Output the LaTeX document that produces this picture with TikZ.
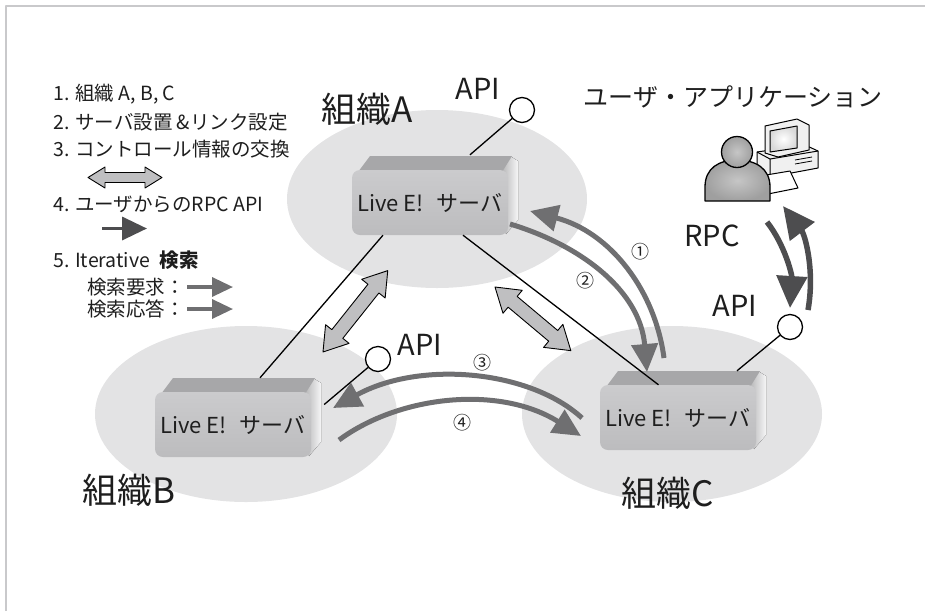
\documentclass[tikz,border=0pt]{standalone}
\usepackage{fontspec}
\setmainfont{Noto Sans CJK JP}
\usetikzlibrary{arrows.meta}

\definecolor{orgfill}{HTML}{E3E3E4}
\definecolor{framegray}{HTML}{C9C9CB}
\definecolor{hopgray}{HTML}{6F6F71}
\definecolor{rpcgray}{HTML}{4D4D4F}
\definecolor{ctlgray}{HTML}{BFBFC1}
\definecolor{inkgray}{HTML}{1E1E1E}
\definecolor{srvhi}{HTML}{CBCBCD}
\definecolor{srvlo}{HTML}{BCBCBE}
\definecolor{srvtopc}{HTML}{A7A7A9}

\tikzset{
  server/.style={rectangle, rounded corners=8pt, minimum width=156pt, minimum height=65pt,
    top color=srvhi, bottom color=srvlo, text=inkgray, font=\fontsize{22}{22}\selectfont},
  srvtop/.style={fill=srvtopc},
  srvside/.style={left color=srvtopc, right color=white!90!srvtopc},
  api/.style={circle, draw, line width=1.3pt, fill=white, minimum size=25pt, inner sep=0pt},
  link/.style={line width=1.3pt},
  hop/.style={draw=hopgray, line width=5pt, -{Triangle[length=28pt,width=26pt]}},
  rpc/.style={draw=rpcgray, line width=5.5pt, -{Triangle[length=32pt,width=30pt]}},
  ctl/.style={fill=ctlgray, draw=black, line width=0.9pt},
  legend/.style={anchor=west, inner sep=0pt, text=inkgray, font=\fontsize{19.5}{20}\selectfont},
  orgname/.style={text=inkgray, font=\fontsize{35}{35}\selectfont},
  apiname/.style={text=inkgray, font=\fontsize{29}{29}\selectfont},
  hopno/.style={text=inkgray, font=\fontsize{18}{18}\selectfont},
  pc/.style={draw=black, line width=1pt, fill=gray!12},
  person/.style={draw=black, line width=1.3pt, inner color=gray!45, outer color=gray!75},
}

\begin{document}
\begin{tikzpicture}[x=1pt, y=-1pt, line join=round]
\useasboundingbox (0,0) rectangle (925,611);
\draw[draw=framegray, line width=2.5pt] (6,611) -- (6,6) -- (925,6);

% organisations
\fill[orgfill] (437,199) ellipse [x radius=150pt, y radius=89pt];
\fill[orgfill] (246,414) ellipse [x radius=151pt, y radius=88pt];
\fill[orgfill] (672,414) ellipse [x radius=150pt, y radius=88pt];
\node[orgname] (nameA) at (367,109) {組織A};
\node[orgname] (nameB) at (129,490) {組織B};
\node[orgname] (nameC) at (668,493) {組織C};

% legend
\node[legend] (l1) at (53,94) {1. 組織 A, B, C};
\node[legend] (l2) at (53,122) {2. サーバ設置 \&リンク設定};
\node[legend] (l3) at (53,149) {3. コントロール情報の交換};
\node[legend] (l4) at (53,204) {4. ユーザからのRPC API};
\node[legend] (l5) at (53,260) {5. Iterative\hspace{.5em}\textbf{検索}};
\node[legend] (l6) at (87,287) {検索要求：};
\node[legend] (l7) at (87,309) {検索応答：};
\draw[rpcgray, line width=3.5pt, -{Triangle[length=25pt,width=23pt]}] (102,228.5) -- (147,228.5);
\foreach \y in {287,309}
  \draw[hopgray, line width=3.5pt, -{Triangle[length=21pt,width=19pt]}] (187,\y) -- (233,\y);

% control exchange (double arrows)
\foreach \px/\py/\a/\l/\h/\w/\s in {88/177.5/0/74/17/10.5/5, 323/352/51.5/104/23/15/7, 495/287/-40/99/23/15/7}
  \draw[ctl, shift={(\px,\py)}, rotate=\a] (0,0) -- (\h,-\w) -- (\h,-\s) -- (\l-\h,-\s) -- (\l-\h,-\w)
    -- (\l,0) -- (\l-\h,\w) -- (\l-\h,\s) -- (\h,\s) -- (\h,\w) -- cycle;

% servers
\foreach \n/\x/\y in {A/352/170, B/155/392, C/600/385}{
  \fill[srvside] (\x+146,\y+2) -- (\x+158,\y-14) -- (\x+166,\y-9) -- (\x+166,\y+50) -- (\x+154,\y+64) -- cycle;
  \fill[srvtop] (\x+6,\y+2) -- (\x+18,\y-14) -- (\x+160,\y-14) -- (\x+150,\y+2) -- cycle;
  \node[server] (srv\n) at (\x+78,\y+32.5) {Live E!\hspace{.6em}サーバ};
}

% links between servers
\draw[link] ([xshift=-47pt]srvA.south) -- ([xshift=27pt,yshift=14pt]srvB.north);
\draw[link] ([xshift=33pt]srvA.south) -- ([xshift=-19.5pt]srvC.north);

% API end points
\node[api] (apiA) at (522,110) {};
\node[api] (apiB) at (378,359) {};
\node[api] (apiC) at (790,327) {};
\draw[link] (apiA) -- ([xshift=40pt,yshift=15pt]srvA.north);
\draw[link] (apiB) -- ([xshift=13pt,yshift=20pt]srvB.east);
\draw[link] (apiC) -- ([xshift=59pt,yshift=14pt]srvC.north);
\node[apiname] (apiAname) at (478,89) {API};
\node[apiname] (apiBname) at (420,345) {API};
\node[apiname] (apiCname) at (735,306) {API};

% user application
\node[text=inkgray, font=\fontsize{25}{25}\selectfont] (user) at (733,97) {ユーザ・アプリケーション};
\draw[pc] (757,152) -- (805,145) -- (818,151) -- (818,168) -- (770,177) -- (757,170) -- cycle;
\draw[line width=1pt] (757,152) -- (770,159) -- (818,151) (770,159) -- (770,177);
\draw[line width=0.8pt] (795,160) -- (812,157) (795,164) -- (812,161);
\draw[pc] (765,126) -- (797,119) -- (809,125) -- (809,150) -- (778,157) -- (765,153) -- cycle;
\draw[line width=1pt, fill=white, inner color=white, outer color=gray!30] (770,131) -- (797,126) -- (797,148) -- (770,152) -- cycle;
\draw[pc, fill=white] (760,176) -- (790,171) -- (798,188) -- (768,194) -- cycle;
\draw[person] (705,201) -- (705,187) .. controls (705,168) and (719,160) .. (737,160)
  .. controls (755,160) and (770,168) .. (770,187) -- (770,201) -- cycle;
\draw[person] (737,152) circle [radius=15.5pt];

% RPC between user and server C
\coordinate (rpcout) at (767,222);
\coordinate (rpcin) at (790,308);
\coordinate (rpcret) at (808,310);
\coordinate (rpcback) at (783,206);
\draw[rpc] (rpcout) .. controls (785,245) and (792,275) .. (rpcin);
\draw[rpc] (rpcret) .. controls (815,270) and (805,235) .. (rpcback);
\node[apiname] (rpcname) at (712,236) {RPC};

% iterative search
\coordinate (q1s) at (664,358);
\coordinate (q1e) at (530,211);
\coordinate (q2s) at (510,224);
\coordinate (q2e) at (647,372);
\coordinate (q3s) at (582,418);
\coordinate (q3e) at (333,408);
\coordinate (q4s) at (339,440);
\coordinate (q4e) at (581,436);
\draw[hop] (q1s) .. controls (655,290) and (610,232) .. (q1e);
\draw[hop] (q2s) .. controls (580,245) and (640,290) .. (q2e);
\draw[hop] (q3s) .. controls (530,370) and (420,360) .. (q3e);
\draw[hop] (q4s) .. controls (400,395) and (500,385) .. (q4e);
\node[hopno] (n1) at (640,252) {①};
\node[hopno] (n2) at (585,281) {②};
\node[hopno] (n3) at (482,363) {③};
\node[hopno] (n4) at (462,423) {④};
\end{tikzpicture}
\end{document}
